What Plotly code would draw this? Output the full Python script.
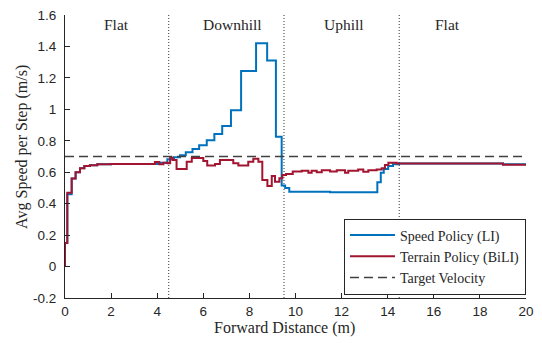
import plotly.graph_objects as go

# ---------------- data ----------------
# Speed Policy (LI): step edges (left x of each step) and step values
speed_x = [0, 0, 0.1, 0.29, 0.46, 0.65, 0.84, 1.08, 1.4, 2.0, 4.1, 4.44, 4.73, 4.99, 5.24, 5.53,
           5.82, 6.15, 6.48, 6.82, 7.2, 7.64, 8.29, 8.77, 9.15, 9.4, 9.55, 9.73, 11.5, 13.55,
           13.7, 13.83, 14.02, 14.23, 14.49, 19.0, 20.0]
speed_y = [0, 0.15, 0.46, 0.56, 0.6, 0.625, 0.64, 0.645, 0.65, 0.652, 0.66, 0.682, 0.695, 0.708,
           0.727, 0.748, 0.772, 0.803, 0.843, 0.894, 0.994, 1.244, 1.42, 1.31, 0.826, 0.515,
           0.5, 0.476, 0.473, 0.536, 0.597, 0.621, 0.64, 0.651, 0.656, 0.65, 0.65]

# Terrain Policy (BiLI)
terrain_x = [0, 0, 0.1, 0.29, 0.46, 0.65, 0.84, 1.08, 1.4, 2.0, 3.9, 4.09, 4.27, 4.44, 4.56, 4.67,
             4.84, 5.28, 5.5, 6.0, 6.17, 6.51, 6.72, 7.3, 7.52, 7.95, 8.17, 8.39, 8.56, 8.78,
             8.97, 9.11, 9.3, 9.43, 9.59, 9.88, 10.27, 10.56, 10.7, 10.92, 11.14, 11.5, 11.79,
             12.15, 12.29, 12.72, 12.94, 13.16, 13.52, 13.74, 13.88, 14.03, 14.39, 19.0, 20.0]
terrain_y = [0, 0.15, 0.47, 0.56, 0.6, 0.625, 0.64, 0.645, 0.65, 0.652, 0.665, 0.65, 0.66, 0.657,
             0.693, 0.678, 0.621, 0.667, 0.69, 0.672, 0.642, 0.652, 0.678, 0.657, 0.642, 0.667,
             0.685, 0.667, 0.551, 0.513, 0.576, 0.54, 0.562, 0.583, 0.589, 0.604, 0.61, 0.597,
             0.61, 0.6, 0.612, 0.605, 0.612, 0.597, 0.61, 0.618, 0.603, 0.612, 0.618, 0.625,
             0.646, 0.661, 0.656, 0.648, 0.648]

target_x = [0, 20]
target_y = [0.7, 0.7]

boundaries = [4.5, 9.5, 14.5]
region_labels = ["Flat", "Downhill", "Uphill", "Flat"]
region_label_x = [2.25, 7.25, 12.1, 16.6]
region_label_y = 1.54

x_ticks = [0, 2, 4, 6, 8, 10, 12, 14, 16, 18, 20]
y_ticks = [-0.2, 0, 0.2, 0.4, 0.6, 0.8, 1.0, 1.2, 1.4, 1.6]
y_ticktext = ["-0.2", "0", "0.2", "0.4", "0.6", "0.8", "1", "1.2", "1.4", "1.6"]

x_title = "Forward Distance (m)"
y_title = "Avg Speed per Step (m/s)"

# ---------------- figure ----------------
SERIF = "Liberation Serif, Times New Roman, serif"
SANS = "Liberation Sans, Arial, sans-serif"
AX = "#262626"

fig = go.Figure()

for b in boundaries:
    fig.add_trace(go.Scatter(x=[b, b], y=[-0.2, 1.6], mode="lines",
                             line=dict(color="#333333", width=1, dash="1px,2px"),
                             showlegend=False, hoverinfo="skip"))

fig.add_trace(go.Scatter(x=speed_x, y=speed_y, mode="lines", line_shape="hv",
                         name="Speed Policy (LI)",
                         line=dict(color="#0072BD", width=2)))
fig.add_trace(go.Scatter(x=terrain_x, y=terrain_y, mode="lines", line_shape="hv",
                         name="Terrain Policy (BiLI)",
                         line=dict(color="#A2142F", width=2)))
fig.add_trace(go.Scatter(x=target_x, y=target_y, mode="lines",
                         name="Target Velocity",
                         line=dict(color="#404040", width=1.5, dash="9px,5px")))

for lab, lx in zip(region_labels, region_label_x):
    fig.add_annotation(x=lx, y=region_label_y, text=lab, showarrow=False,
                       xanchor="center", yanchor="middle",
                       font=dict(family=SERIF, size=15.5, color=AX))

# axis titles
fig.add_annotation(x=0.477, y=0, xref="paper", yref="paper", yshift=-30,
                   text=x_title, showarrow=False, xanchor="center", yanchor="middle",
                   font=dict(family=SERIF, size=16, color=AX))
fig.add_annotation(x=0, y=0.534, xref="paper", yref="paper", xshift=-43,
                   text=y_title, showarrow=False, textangle=-90,
                   xanchor="center", yanchor="middle",
                   font=dict(family=SERIF, size=16, color=AX))

fig.update_layout(
    width=542, height=343,
    margin=dict(l=65, r=16, t=15, b=45),
    paper_bgcolor="white", plot_bgcolor="white",
    showlegend=True,
    legend=dict(x=1.0, y=0.1466, xanchor="right", yanchor="middle",
                bgcolor="white", bordercolor=AX, borderwidth=1,
                font=dict(family=SERIF, size=14, color=AX),
                itemwidth=45, tracegroupgap=0),
    xaxis=dict(range=[0, 20], tickvals=x_ticks, ticks="inside", ticklen=5,
               tickcolor=AX, showline=True, linecolor=AX, linewidth=1,
               showgrid=False, zeroline=False, automargin=False,
               ticklabelstandoff=1, ticklabeloverflow="allow",
               tickfont=dict(family=SANS, size=13.5, color=AX)),
    yaxis=dict(range=[-0.2, 1.6], tickvals=y_ticks, ticktext=y_ticktext,
               ticks="inside", ticklen=5, tickcolor=AX,
               showline=True, linecolor=AX, linewidth=1,
               showgrid=False, zeroline=False, ticklabelstandoff=5,
               automargin=False, ticklabeloverflow="allow",
               tickfont=dict(family=SANS, size=13.5, color=AX)),
)

# remove the browser's default 8px body margin so the figure fills the window
fig.write_html("out.html", config={"displayModeBar": False},
               post_script="document.body.style.margin='0';")
